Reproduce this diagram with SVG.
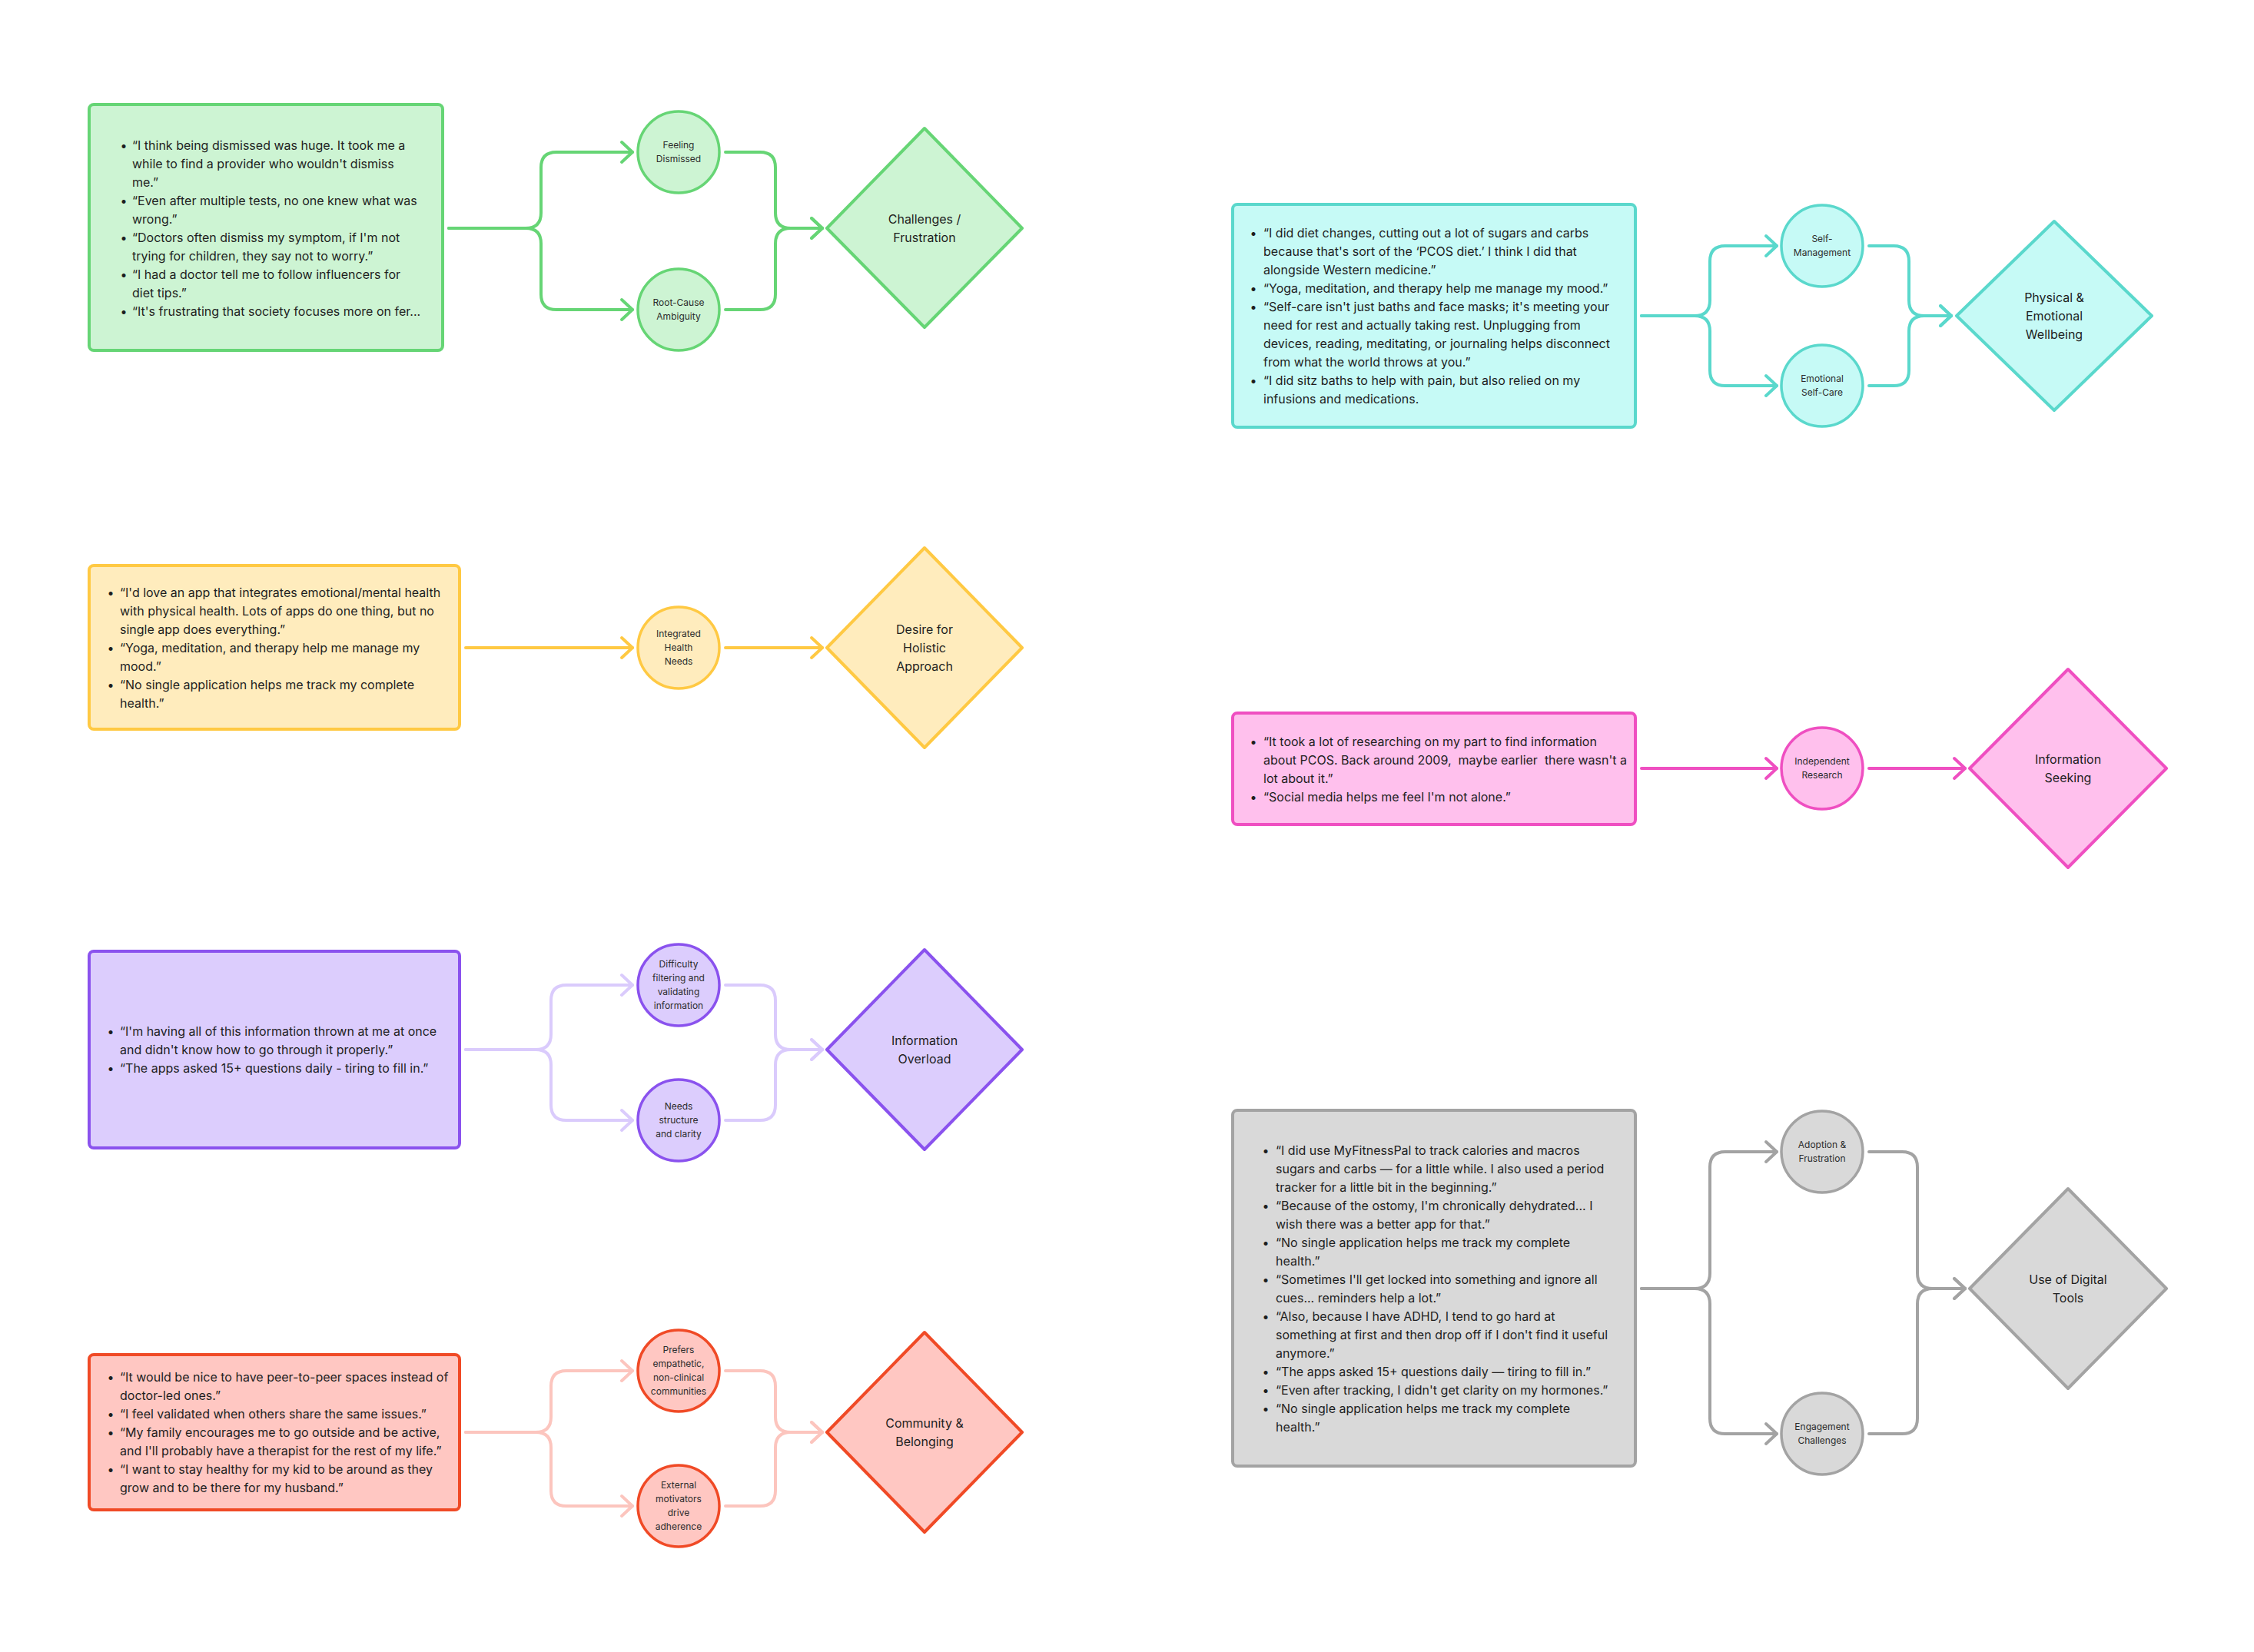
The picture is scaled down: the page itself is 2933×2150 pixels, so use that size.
<svg xmlns="http://www.w3.org/2000/svg" width="2933" height="2150" viewBox="0 0 2933 2150">
<style>
text { font-family: Inter, "Liberation Sans", "DejaVu Sans", sans-serif; fill: #1e1e1e; }
.q { font-size: 16px; }
.b { font-size: 16px; text-anchor: middle; }
.c { font-size: 12px; text-anchor: middle; fill: #2c2c2c; }
.d { font-size: 16px; text-anchor: middle; }
.box { stroke-width: 4; }
.cir { stroke-width: 3.5; }
.dia { stroke-width: 4; stroke-linejoin: round; }
.conn { fill: none; stroke-width: 4; stroke-linecap: round; stroke-linejoin: round; }
.green { fill: #cdf4d3; stroke: #66d575; }
.teal { fill: #c6faf6; stroke: #5ad8cc; }
.yellow { fill: #ffecbd; stroke: #ffc943; }
.pink { fill: #ffc0ed; stroke: #ef4fc1; }
.violet { fill: #dccdfd; stroke: #8a52ee; }
.red { fill: #ffc7c2; stroke: #f04a26; }
.grey { fill: #d9d9d9; stroke: #a3a3a3; }
</style>
<defs>
<marker id="mG" markerUnits="userSpaceOnUse" viewBox="-18 -16 22 32" markerWidth="22" markerHeight="32" refX="0" refY="0" orient="auto" overflow="visible"><path d="M-14,-13 L0,0 L-14,13" fill="none" stroke="#66d575" stroke-width="4" stroke-linecap="round" stroke-linejoin="round"/></marker>
<marker id="mT" markerUnits="userSpaceOnUse" viewBox="-18 -16 22 32" markerWidth="22" markerHeight="32" refX="0" refY="0" orient="auto" overflow="visible"><path d="M-14,-13 L0,0 L-14,13" fill="none" stroke="#5ad8cc" stroke-width="4" stroke-linecap="round" stroke-linejoin="round"/></marker>
<marker id="mY" markerUnits="userSpaceOnUse" viewBox="-18 -16 22 32" markerWidth="22" markerHeight="32" refX="0" refY="0" orient="auto" overflow="visible"><path d="M-14,-13 L0,0 L-14,13" fill="none" stroke="#ffc943" stroke-width="4" stroke-linecap="round" stroke-linejoin="round"/></marker>
<marker id="mP" markerUnits="userSpaceOnUse" viewBox="-18 -16 22 32" markerWidth="22" markerHeight="32" refX="0" refY="0" orient="auto" overflow="visible"><path d="M-14,-13 L0,0 L-14,13" fill="none" stroke="#ef4fc1" stroke-width="4" stroke-linecap="round" stroke-linejoin="round"/></marker>
<marker id="mV" markerUnits="userSpaceOnUse" viewBox="-18 -16 22 32" markerWidth="22" markerHeight="32" refX="0" refY="0" orient="auto" overflow="visible"><path d="M-14,-13 L0,0 L-14,13" fill="none" stroke="#dacbfc" stroke-width="4" stroke-linecap="round" stroke-linejoin="round"/></marker>
<marker id="mR" markerUnits="userSpaceOnUse" viewBox="-18 -16 22 32" markerWidth="22" markerHeight="32" refX="0" refY="0" orient="auto" overflow="visible"><path d="M-14,-13 L0,0 L-14,13" fill="none" stroke="#fcc5be" stroke-width="4" stroke-linecap="round" stroke-linejoin="round"/></marker>
<marker id="mX" markerUnits="userSpaceOnUse" viewBox="-18 -16 22 32" markerWidth="22" markerHeight="32" refX="0" refY="0" orient="auto" overflow="visible"><path d="M-14,-13 L0,0 L-14,13" fill="none" stroke="#a3a3a3" stroke-width="4" stroke-linecap="round" stroke-linejoin="round"/></marker>
</defs>
<rect width="2933" height="2150" fill="#ffffff"/>

<g id="connectors">
  <!-- green -->
  <path class="conn" stroke="#66d575" d="M584,297 H684 Q704,297 704,277 V218 Q704,198 724,198 H823" marker-end="url(#mG)"/>
  <path class="conn" stroke="#66d575" d="M584,297 H684 Q704,297 704,317 V383 Q704,403 724,403 H823" marker-end="url(#mG)"/>
  <path class="conn" stroke="#66d575" d="M944,198 H989 Q1009,198 1009,218 V277 Q1009,297 1029,297 H1070" marker-end="url(#mG)"/>
  <path class="conn" stroke="#66d575" d="M944,403 H989 Q1009,403 1009,383 V317 Q1009,297 1029,297 H1070" marker-end="url(#mG)"/>
  <!-- teal -->
  <path class="conn" stroke="#5ad8cc" d="M2136,411 H2205 Q2225,411 2225,391 V340 Q2225,320 2245,320 H2312" marker-end="url(#mT)"/>
  <path class="conn" stroke="#5ad8cc" d="M2136,411 H2205 Q2225,411 2225,431 V482 Q2225,502 2245,502 H2312" marker-end="url(#mT)"/>
  <path class="conn" stroke="#5ad8cc" d="M2432,320 H2464 Q2484,320 2484,340 V391 Q2484,411 2504,411 H2539" marker-end="url(#mT)"/>
  <path class="conn" stroke="#5ad8cc" d="M2432,502 H2464 Q2484,502 2484,482 V431 Q2484,411 2504,411 H2539" marker-end="url(#mT)"/>
  <!-- yellow -->
  <path class="conn" stroke="#ffc943" d="M606,843 H823" marker-end="url(#mY)"/>
  <path class="conn" stroke="#ffc943" d="M944,843 H1070" marker-end="url(#mY)"/>
  <!-- pink -->
  <path class="conn" stroke="#ef4fc1" d="M2136,1000 H2312" marker-end="url(#mP)"/>
  <path class="conn" stroke="#ef4fc1" d="M2432,1000 H2557" marker-end="url(#mP)"/>
  <!-- violet -->
  <path class="conn" stroke="#dacbfc" d="M606,1366 H697 Q717,1366 717,1346 V1302 Q717,1282 737,1282 H823" marker-end="url(#mV)"/>
  <path class="conn" stroke="#dacbfc" d="M606,1366 H697 Q717,1366 717,1386 V1438 Q717,1458 737,1458 H823" marker-end="url(#mV)"/>
  <path class="conn" stroke="#dacbfc" d="M944,1282 H989 Q1009,1282 1009,1302 V1346 Q1009,1366 1029,1366 H1070" marker-end="url(#mV)"/>
  <path class="conn" stroke="#dacbfc" d="M944,1458 H989 Q1009,1458 1009,1438 V1386 Q1009,1366 1029,1366 H1070" marker-end="url(#mV)"/>
  <!-- red -->
  <path class="conn" stroke="#fcc5be" d="M606,1864 H697 Q717,1864 717,1844 V1804 Q717,1784 737,1784 H823" marker-end="url(#mR)"/>
  <path class="conn" stroke="#fcc5be" d="M606,1864 H697 Q717,1864 717,1884 V1940 Q717,1960 737,1960 H823" marker-end="url(#mR)"/>
  <path class="conn" stroke="#fcc5be" d="M944,1784 H989 Q1009,1784 1009,1804 V1844 Q1009,1864 1029,1864 H1070" marker-end="url(#mR)"/>
  <path class="conn" stroke="#fcc5be" d="M944,1960 H989 Q1009,1960 1009,1940 V1884 Q1009,1864 1029,1864 H1070" marker-end="url(#mR)"/>
  <!-- grey -->
  <path class="conn" stroke="#a3a3a3" d="M2136,1677 H2205 Q2225,1677 2225,1657 V1519 Q2225,1499 2245,1499 H2312" marker-end="url(#mX)"/>
  <path class="conn" stroke="#a3a3a3" d="M2136,1677 H2205 Q2225,1677 2225,1697 V1846 Q2225,1866 2245,1866 H2312" marker-end="url(#mX)"/>
  <path class="conn" stroke="#a3a3a3" d="M2432,1499 H2475 Q2495,1499 2495,1519 V1657 Q2495,1677 2515,1677 H2557" marker-end="url(#mX)"/>
  <path class="conn" stroke="#a3a3a3" d="M2432,1866 H2475 Q2495,1866 2495,1846 V1697 Q2495,1677 2515,1677 H2557" marker-end="url(#mX)"/>
</g>

<!-- GREEN -->
<g id="quotes-dismissed">
  <rect class="box green" x="116" y="136" width="460" height="320" rx="6"/>
  <text class="b" x="161" y="195">•</text><text class="q" x="172" y="195">“I think being dismissed was huge. It took me a</text>
  <text class="q" x="172" y="219">while to find a provider who wouldn't dismiss</text>
  <text class="q" x="172" y="243">me.”</text>
  <text class="b" x="161" y="267">•</text><text class="q" x="172" y="267">“Even after multiple tests, no one knew what was</text>
  <text class="q" x="172" y="291">wrong.”</text>
  <text class="b" x="161" y="315">•</text><text class="q" x="172" y="315">“Doctors often dismiss my symptom, if I'm not</text>
  <text class="q" x="172" y="339">trying for children, they say not to worry.”</text>
  <text class="b" x="161" y="363">•</text><text class="q" x="172" y="363">“I had a doctor tell me to follow influencers for</text>
  <text class="q" x="172" y="387">diet tips.”</text>
  <text class="b" x="161" y="411">•</text><text class="q" x="172" y="411">“It's frustrating that society focuses more on fer...</text>
</g>
<g id="feeling-dismissed">
  <circle class="cir green" cx="883" cy="198" r="53"/>
  <text class="c" x="883" y="193">Feeling</text>
  <text class="c" x="883" y="211">Dismissed</text>
</g>
<g id="root-cause">
  <circle class="cir green" cx="883" cy="403" r="53"/>
  <text class="c" x="883" y="398">Root-Cause</text>
  <text class="c" x="883" y="416">Ambiguity</text>
</g>
<g id="challenges">
  <polygon class="dia green" points="1203,167 1330,297 1203,426 1076,297"/>
  <text class="d" x="1203" y="291">Challenges /</text>
  <text class="d" x="1203" y="315">Frustration</text>
</g>

<!-- TEAL -->
<g id="quotes-wellbeing">
  <rect class="box teal" x="1604" y="266" width="524" height="290" rx="6"/>
  <text class="b" x="1631" y="309">•</text><text class="q" x="1644" y="309">“I did diet changes, cutting out a lot of sugars and carbs</text>
  <text class="q" x="1644" y="333">because that's sort of the ‘PCOS diet.’ I think I did that</text>
  <text class="q" x="1644" y="357">alongside Western medicine.”</text>
  <text class="b" x="1631" y="381">•</text><text class="q" x="1644" y="381">“Yoga, meditation, and therapy help me manage my mood.”</text>
  <text class="b" x="1631" y="405">•</text><text class="q" x="1644" y="405">“Self-care isn't just baths and face masks; it's meeting your</text>
  <text class="q" x="1644" y="429">need for rest and actually taking rest. Unplugging from</text>
  <text class="q" x="1644" y="453">devices, reading, meditating, or journaling helps disconnect</text>
  <text class="q" x="1644" y="477">from what the world throws at you.”</text>
  <text class="b" x="1631" y="501">•</text><text class="q" x="1644" y="501">“I did sitz baths to help with pain, but also relied on my</text>
  <text class="q" x="1644" y="525">infusions and medications.</text>
</g>
<g id="self-management">
  <circle class="cir teal" cx="2371" cy="320" r="53"/>
  <text class="c" x="2371" y="315">Self-</text>
  <text class="c" x="2371" y="333">Management</text>
</g>
<g id="emotional-self-care">
  <circle class="cir teal" cx="2371" cy="502" r="53"/>
  <text class="c" x="2371" y="497">Emotional</text>
  <text class="c" x="2371" y="515">Self-Care</text>
</g>
<g id="physical-emotional">
  <polygon class="dia teal" points="2673,288 2800,411 2673,534 2546,411"/>
  <text class="d" x="2673" y="393">Physical &amp;</text>
  <text class="d" x="2673" y="417">Emotional</text>
  <text class="d" x="2673" y="441">Wellbeing</text>
</g>

<!-- YELLOW -->
<g id="quotes-holistic">
  <rect class="box yellow" x="116" y="736" width="482" height="213" rx="6"/>
  <text class="b" x="144" y="777">•</text><text class="q" x="156" y="777">“I'd love an app that integrates emotional/mental health</text>
  <text class="q" x="156" y="801">with physical health. Lots of apps do one thing, but no</text>
  <text class="q" x="156" y="825">single app does everything.”</text>
  <text class="b" x="144" y="849">•</text><text class="q" x="156" y="849">“Yoga, meditation, and therapy help me manage my</text>
  <text class="q" x="156" y="873">mood.”</text>
  <text class="b" x="144" y="897">•</text><text class="q" x="156" y="897">“No single application helps me track my complete</text>
  <text class="q" x="156" y="921">health.”</text>
</g>
<g id="integrated-health">
  <circle class="cir yellow" cx="883" cy="843" r="53"/>
  <text class="c" x="883" y="829">Integrated</text>
  <text class="c" x="883" y="847">Health</text>
  <text class="c" x="883" y="865">Needs</text>
</g>
<g id="holistic">
  <polygon class="dia yellow" points="1203,713 1330,843 1203,973 1076,843"/>
  <text class="d" x="1203" y="825">Desire for</text>
  <text class="d" x="1203" y="849">Holistic</text>
  <text class="d" x="1203" y="873">Approach</text>
</g>

<!-- PINK -->
<g id="quotes-info-seeking">
  <rect class="box pink" x="1604" y="928" width="524" height="145" rx="6"/>
  <text class="b" x="1631" y="971">•</text><text class="q" x="1644" y="971">“It took a lot of researching on my part to find information</text>
  <text class="q" x="1644" y="995">about PCOS. Back around 2009, &#160;maybe earlier &#160;there wasn't a</text>
  <text class="q" x="1644" y="1019">lot about it.”</text>
  <text class="b" x="1631" y="1043">•</text><text class="q" x="1644" y="1043">“Social media helps me feel I'm not alone.”</text>
</g>
<g id="independent-research">
  <circle class="cir pink" cx="2371" cy="1000" r="53"/>
  <text class="c" x="2371" y="995">Independent</text>
  <text class="c" x="2371" y="1013">Research</text>
</g>
<g id="info-seeking">
  <polygon class="dia pink" points="2691,871 2819,1000 2691,1129 2563,1000"/>
  <text class="d" x="2691" y="994">Information</text>
  <text class="d" x="2691" y="1018">Seeking</text>
</g>

<!-- VIOLET -->
<g id="quotes-overload">
  <rect class="box violet" x="116" y="1238" width="482" height="256" rx="6"/>
  <text class="b" x="144" y="1348">•</text><text class="q" x="156" y="1348">“I'm having all of this information thrown at me at once</text>
  <text class="q" x="156" y="1372">and didn't know how to go through it properly.”</text>
  <text class="b" x="144" y="1396">•</text><text class="q" x="156" y="1396">“The apps asked 15+ questions daily - tiring to fill in.”</text>
</g>
<g id="difficulty-filtering">
  <circle class="cir violet" cx="883" cy="1282" r="53"/>
  <text class="c" x="883" y="1259">Difficulty</text>
  <text class="c" x="883" y="1277">filtering and</text>
  <text class="c" x="883" y="1295">validating</text>
  <text class="c" x="883" y="1313">information</text>
</g>
<g id="needs-structure">
  <circle class="cir violet" cx="883" cy="1458" r="53"/>
  <text class="c" x="883" y="1444">Needs</text>
  <text class="c" x="883" y="1462">structure</text>
  <text class="c" x="883" y="1480">and clarity</text>
</g>
<g id="info-overload">
  <polygon class="dia violet" points="1203,1236 1330,1366 1203,1496 1076,1366"/>
  <text class="d" x="1203" y="1360">Information</text>
  <text class="d" x="1203" y="1384">Overload</text>
</g>

<!-- RED -->
<g id="quotes-community">
  <rect class="box red" x="116" y="1763" width="482" height="202" rx="6"/>
  <text class="b" x="144" y="1798">•</text><text class="q" x="156" y="1798">“It would be nice to have peer-to-peer spaces instead of</text>
  <text class="q" x="156" y="1822">doctor-led ones.”</text>
  <text class="b" x="144" y="1846">•</text><text class="q" x="156" y="1846">“I feel validated when others share the same issues.”</text>
  <text class="b" x="144" y="1870">•</text><text class="q" x="156" y="1870">“My family encourages me to go outside and be active,</text>
  <text class="q" x="156" y="1894">and I'll probably have a therapist for the rest of my life.”</text>
  <text class="b" x="144" y="1918">•</text><text class="q" x="156" y="1918">“I want to stay healthy for my kid to be around as they</text>
  <text class="q" x="156" y="1942">grow and to be there for my husband.”</text>
</g>
<g id="prefers-empathetic">
  <circle class="cir red" cx="883" cy="1784" r="53"/>
  <text class="c" x="883" y="1761">Prefers</text>
  <text class="c" x="883" y="1779">empathetic,</text>
  <text class="c" x="883" y="1797">non-clinical</text>
  <text class="c" x="883" y="1815">communities</text>
</g>
<g id="external-motivators">
  <circle class="cir red" cx="883" cy="1960" r="53"/>
  <text class="c" x="883" y="1937">External</text>
  <text class="c" x="883" y="1955">motivators</text>
  <text class="c" x="883" y="1973">drive</text>
  <text class="c" x="883" y="1991">adherence</text>
</g>
<g id="community">
  <polygon class="dia red" points="1203,1734 1330,1864 1203,1994 1076,1864"/>
  <text class="d" x="1203" y="1858">Community &amp;</text>
  <text class="d" x="1203" y="1882">Belonging</text>
</g>

<!-- GREY -->
<g id="quotes-digital-tools">
  <rect class="box grey" x="1604" y="1445" width="524" height="463" rx="6"/>
  <text class="b" x="1647" y="1503">•</text><text class="q" x="1660" y="1503">“I did use MyFitnessPal to track calories and macros</text>
  <text class="q" x="1660" y="1527">sugars and carbs — for a little while. I also used a period</text>
  <text class="q" x="1660" y="1551">tracker for a little bit in the beginning.”</text>
  <text class="b" x="1647" y="1575">•</text><text class="q" x="1660" y="1575">“Because of the ostomy, I'm chronically dehydrated... I</text>
  <text class="q" x="1660" y="1599">wish there was a better app for that.”</text>
  <text class="b" x="1647" y="1623">•</text><text class="q" x="1660" y="1623">“No single application helps me track my complete</text>
  <text class="q" x="1660" y="1647">health.”</text>
  <text class="b" x="1647" y="1671">•</text><text class="q" x="1660" y="1671">“Sometimes I'll get locked into something and ignore all</text>
  <text class="q" x="1660" y="1695">cues... reminders help a lot.”</text>
  <text class="b" x="1647" y="1719">•</text><text class="q" x="1660" y="1719">“Also, because I have ADHD, I tend to go hard at</text>
  <text class="q" x="1660" y="1743">something at first and then drop off if I don't find it useful</text>
  <text class="q" x="1660" y="1767">anymore.”</text>
  <text class="b" x="1647" y="1791">•</text><text class="q" x="1660" y="1791">“The apps asked 15+ questions daily — tiring to fill in.”</text>
  <text class="b" x="1647" y="1815">•</text><text class="q" x="1660" y="1815">“Even after tracking, I didn't get clarity on my hormones.”</text>
  <text class="b" x="1647" y="1839">•</text><text class="q" x="1660" y="1839">“No single application helps me track my complete</text>
  <text class="q" x="1660" y="1863">health.”</text>
</g>
<g id="adoption-frustration">
  <circle class="cir grey" cx="2371" cy="1499" r="53"/>
  <text class="c" x="2371" y="1494">Adoption &amp;</text>
  <text class="c" x="2371" y="1512">Frustration</text>
</g>
<g id="engagement-challenges">
  <circle class="cir grey" cx="2371" cy="1866" r="53"/>
  <text class="c" x="2371" y="1861">Engagement</text>
  <text class="c" x="2371" y="1879">Challenges</text>
</g>
<g id="digital-tools">
  <polygon class="dia grey" points="2691,1547 2819,1677 2691,1807 2563,1677"/>
  <text class="d" x="2691" y="1671">Use of Digital</text>
  <text class="d" x="2691" y="1695">Tools</text>
</g>
</svg>
